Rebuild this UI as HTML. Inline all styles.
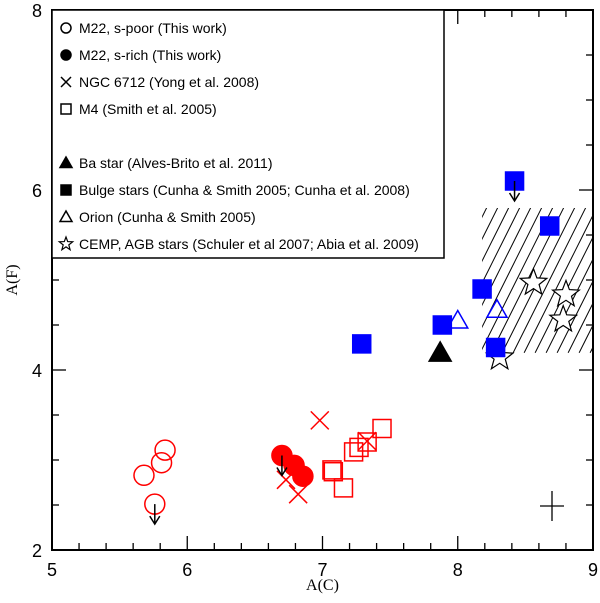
<!DOCTYPE html>
<html><head><meta charset="utf-8"><style>
html,body{margin:0;padding:0;background:#fff;}
svg{display:block;font-family:"Liberation Sans",sans-serif;}
</style></head><body>
<svg id="chart" width="600" height="603"></svg>
<script>
const spoorX=[5.68,5.81,5.836,5.76];
const spoorY=[2.83,2.97,3.11,2.51];
const srichX=[6.70,6.79,6.855];
const srichY=[3.05,2.94,2.82];
const ngcX=[6.98,6.73,6.82,7.33];
const ngcY=[3.44,2.78,2.62,3.21];
const m4X=[7.07,7.08,7.155,7.23,7.27,7.33,7.44];
const m4Y=[2.89,2.87,2.69,3.09,3.14,3.20,3.35];
const bulgeX=[7.29,7.886,8.18,8.28,8.42,8.68];
const bulgeY=[4.29,4.50,4.90,4.25,6.10,5.60];
const baX=[7.87];
const baY=[4.19];
const orionX=[8.0,8.29];
const orionY=[4.55,4.67];
const cempX=[8.56,8.80,8.78,8.31];
const cempY=[4.97,4.84,4.56,4.14];
const limitX=[5.76,6.70,8.42];
const limitY=[2.51,3.05,6.10];
const xTicks=[5,6,7,8,9];
const yTicks=[2,4,6,8];
const hatchX=[8.18,9];
const hatchY=[4.19,5.80];

const L=52,R=593,T=10,B=550;
const sx=v=>L+(v-5)/4*(R-L);
const sy=v=>B-(v-2)/6*(B-T);
const NS='http://www.w3.org/2000/svg';
const svg=document.getElementById('chart');
function mk(tag,attrs,parent){const e=document.createElementNS(NS,tag);for(const k in attrs)e.setAttribute(k,attrs[k]);(parent||svg).appendChild(e);return e;}

const defs=mk('defs',{});
const clip=mk('clipPath',{id:'hc'},defs);
mk('rect',{x:sx(hatchX[0]),y:sy(hatchY[1]),width:sx(hatchX[1])-sx(hatchX[0]),height:sy(hatchY[0])-sy(hatchY[1])},clip);
const hg=mk('g',{'clip-path':'url(#hc)'});


for(let k=-200;k<300;k+=11){
  mk('line',{x1:sx(hatchX[0])+k,y1:sy(hatchY[0]),x2:sx(hatchX[0])+k+80,y2:sy(hatchY[0])-160,stroke:'#000','stroke-width':1},hg);
}

const frame=mk('rect',{x:L,y:T,width:R-L,height:B-T,fill:'none',stroke:'#000','stroke-width':2});


for(let v=5;v<=9.001;v+=0.2){
  const maj=Math.abs(v-Math.round(v))<1e-6;const len=maj?14:7;const x=sx(v);
  mk('line',{x1:x,y1:B,x2:x,y2:B-len,stroke:'#000','stroke-width':1.3});
  mk('line',{x1:x,y1:T,x2:x,y2:T+len,stroke:'#000','stroke-width':1.3});
}
for(let v=2;v<=8.001;v+=0.5){
  const maj=Math.abs(v/2-Math.round(v/2))<1e-6;const len=maj?14:7;const y=sy(v);
  mk('line',{x1:L,y1:y,x2:L+len,y2:y,stroke:'#000','stroke-width':1.3});
  mk('line',{x1:R,y1:y,x2:R-len,y2:y,stroke:'#000','stroke-width':1.3});
}
xTicks.forEach(v=>{const t=mk('text',{x:sx(v),y:B+26,'text-anchor':'middle','font-size':18});t.textContent=v;

});
yTicks.forEach(v=>{const t=mk('text',{x:L-10,y:sy(v)+7,'text-anchor':'end','font-size':18});t.textContent=v;

});
const xt=mk('text',{x:(L+R)/2,y:590,'text-anchor':'middle','font-size':16,'font-family':'Liberation Serif, serif'});xt.textContent='A(C)';


const yt=mk('text',{x:0,y:0,'text-anchor':'middle','font-size':16,'font-family':'Liberation Serif, serif',transform:'translate(17,280) rotate(-90)'});yt.textContent='A(F)';



function circle(x,y,r,fill,stroke,p){return mk('circle',{cx:x,cy:y,r:r,fill:fill,stroke:stroke,'stroke-width':1.5},p);}
function square(x,y,s,fill,stroke,p){return mk('rect',{x:x-s/2,y:y-s/2,width:s,height:s,fill:fill,stroke:stroke,'stroke-width':1.5},p);}
function cross(x,y,s,stroke,p){const g=mk('g',{stroke:stroke,'stroke-width':1.5},p);mk('line',{x1:x-s,y1:y-s,x2:x+s,y2:y+s},g);mk('line',{x1:x-s,y1:y+s,x2:x+s,y2:y-s},g);return g;}
function tri(x,y,s,fill,stroke,p){return mk('polygon',{points:`${x},${y-s} ${x-s},${y+s*0.75} ${x+s},${y+s*0.75}`,fill:fill,stroke:stroke,'stroke-width':1.5},p);}
function star(x,y,r,fill,stroke,p){let pts=[];for(let i=0;i<10;i++){const a=-Math.PI/2+i*Math.PI/5;const rr=i%2?r*0.42:r;pts.push((x+rr*Math.cos(a)).toFixed(1)+','+(y+rr*Math.sin(a)).toFixed(1));}return mk('polygon',{points:pts.join(' '),fill:fill,stroke:stroke,'stroke-width':1.2},p);}

function series(name,X,Y,fn){const g=mk('g',{});
X.forEach((v,i)=>{const e=fn(sx(v),sy(Y[i]),g);});}
series('m4-series',m4X,m4Y,(x,y,g)=>square(x,y,18,'none','#f00',g));
series('ngc6712-series',ngcX,ngcY,(x,y,g)=>cross(x,y,9,'#f00',g));
series('s-poor-series',spoorX,spoorY,(x,y,g)=>circle(x,y,10,'none','#f00',g));
series('s-rich-series',srichX,srichY,(x,y,g)=>circle(x,y,10,'#f00','#f00',g));
series('cemp-series',cempX,cempY,(x,y,g)=>star(x,y,14,'#fff','#000',g));
series('bulge-series',bulgeX,bulgeY,(x,y,g)=>square(x,y,18,'#00f','#00f',g));
series('orion-series',orionX,orionY,(x,y,g)=>tri(x,y,10,'none','#00f',g));
series('ba-star-series',baX,baY,(x,y,g)=>tri(x,y,11,'#000','#000',g));
limitX.forEach((v,i)=>{const x=sx(v),y=sy(limitY[i]);const g=mk('g',{stroke:'#000','stroke-width':1.5,fill:'none'});


mk('line',{x1:x,y1:y,x2:x,y2:y+20},g);mk('polyline',{points:`${x-5},${y+12} ${x},${y+20} ${x+5},${y+12}`},g);});
const eb=mk('g',{stroke:'#000','stroke-width':1.3});


mk('line',{x1:540,y1:506,x2:564,y2:506},eb);mk('line',{x1:552,y1:491,x2:552,y2:521},eb);

const lg=mk('g',{});


mk('rect',{x:L,y:T,width:444-L,height:258-T,fill:'#fff',stroke:'#000','stroke-width':1.5},lg);
const items=[
 ['M22, s-poor (This work)',28,(x,y)=>circle(x,y,5,'none','#000',lg)],
 ['M22, s-rich (This work)',55,(x,y)=>circle(x,y,5,'#000','#000',lg)],
 ['NGC 6712 (Yong et al. 2008)',82,(x,y)=>cross(x,y,5,'#000',lg)],
 ['M4 (Smith et al. 2005)',109,(x,y)=>square(x,y,10,'none','#000',lg)],
 ['Ba star (Alves-Brito et al. 2011)',163,(x,y)=>tri(x,y,6,'#000','#000',lg)],
 ['Bulge stars (Cunha & Smith 2005; Cunha et al. 2008)',190,(x,y)=>square(x,y,10,'#000','#000',lg)],
 ['Orion (Cunha & Smith 2005)',217,(x,y)=>tri(x,y,6,'none','#000',lg)],
 ['CEMP, AGB stars (Schuler et al 2007; Abia et al. 2009)',244,(x,y)=>star(x,y,7,'none','#000',lg)]
];
items.forEach(([txt,y,fn])=>{fn(66,y);const t=mk('text',{x:79,y:y+5,'font-size':14},lg);t.textContent=txt;

});
</script>
</body></html>
